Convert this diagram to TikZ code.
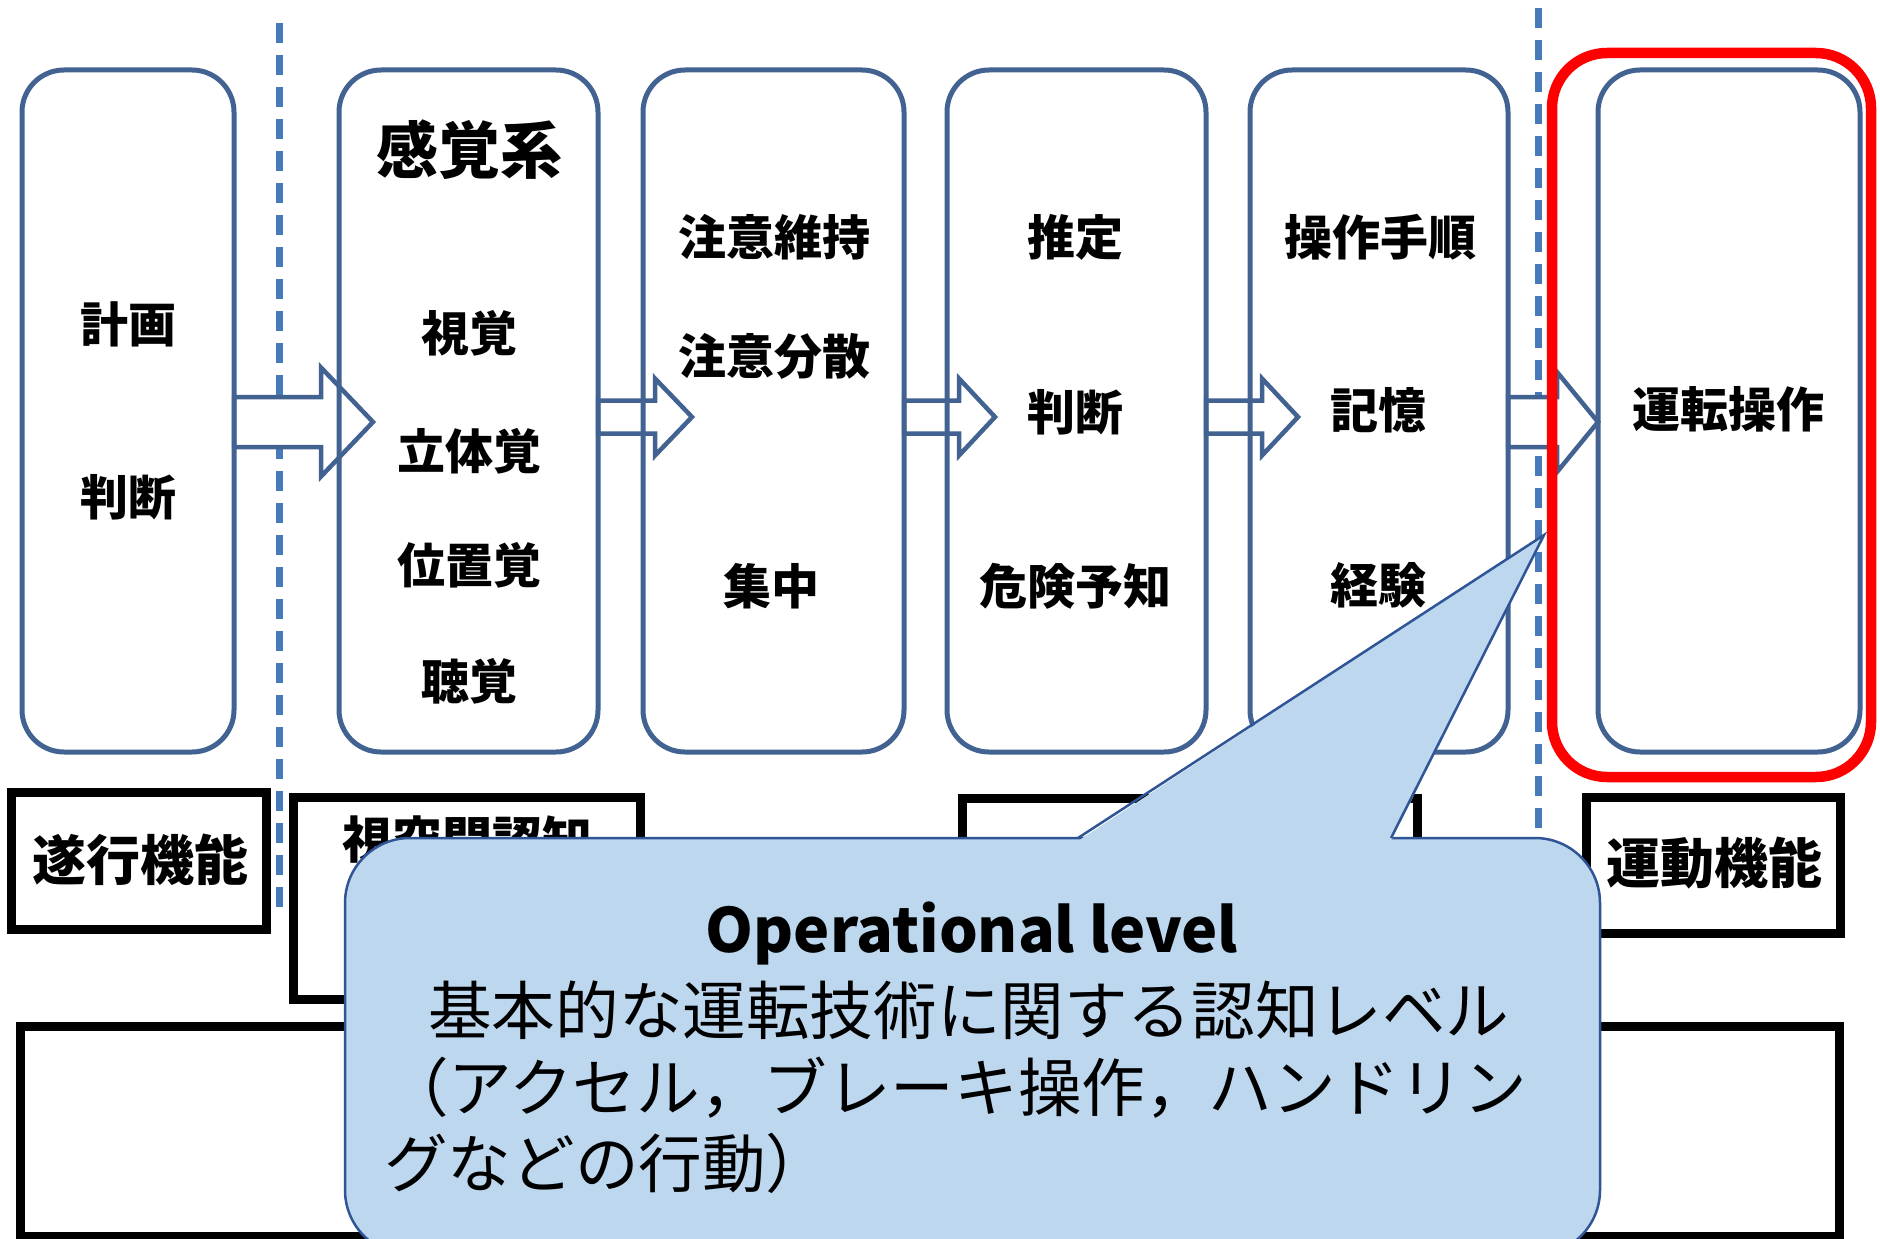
\documentclass[tikz,border=0pt]{standalone}
\usepackage{fontspec}
\setmainfont{Noto Sans CJK JP}
\usetikzlibrary{calc}
\pgfdeclarelayer{bg}
\pgfdeclarelayer{paper}
\pgfsetlayers{paper,bg,main}
\definecolor{boxblue}{RGB}{66,99,146}
\definecolor{dashblue}{RGB}{72,122,186}
\definecolor{calloutfill}{RGB}{189,215,238}
\definecolor{calloutline}{RGB}{47,85,151}
\definecolor{redline}{RGB}{255,0,0}
% #1 start node anchor, #2 shaft length, #3 head length, #4 shaft half, #5 head half, #6 dy
\newcommand{\blockarrow}[6]{%
  \draw[arrowline] ($(#1)+(0,#6-#4)$) -- ++(#2,0) -- ++(0,#4-#5) -- ++(#3,#5)
    -- ++(-#3,#5) -- ++(0,#4-#5) -- ++(-#2,0) -- cycle;}
\begin{document}
\begin{tikzpicture}[x=1pt,y=-1pt,
  bluebox/.style={draw=boxblue, line width=5pt, rounded corners=42pt, inner sep=0pt, outer sep=0pt},
  arrowline/.style={draw=boxblue, fill=white, line width=4.5pt, line join=miter},
  dashline/.style={draw=dashblue, line width=7pt, dash pattern=on 20pt off 12pt},
  blackbox/.style={draw=black, line width=9pt, fill=white, inner sep=0pt, outer sep=0pt},
  redbox/.style={draw=redline, line width=10.5pt, rounded corners=55pt, inner sep=0pt},
  calloutbody/.style={draw=calloutline, fill=calloutfill, line width=2.5pt, rounded corners=65pt, inner sep=0pt},
  boxtxt/.style={font=\bfseries\fontsize{48pt}{48pt}\selectfont, inner sep=0pt},
  bigtxt/.style={font=\bfseries\fontsize{62pt}{62pt}\selectfont, inner sep=0pt},
  labtxt/.style={font=\bfseries\fontsize{54pt}{54pt}\selectfont, inner sep=0pt},
  calltxt/.style={font=\fontsize{63.6pt}{63.6pt}\selectfont, inner sep=0pt, anchor=west},
  calltitle/.style={font=\bfseries\fontsize{61pt}{61pt}\selectfont, inner sep=0pt}
]
\begin{pgfonlayer}{paper}
\fill[white] (0,0) rectangle (1880,1239);
\end{pgfonlayer}
\useasboundingbox (0,0) rectangle (1880,1239);

% main boxes
\node[bluebox, minimum width=212pt, minimum height=682pt] (b1) at (128,411) {};
\node[bluebox, minimum width=259pt, minimum height=682pt] (b2) at (468.5,411) {};
\node[bluebox, minimum width=261pt, minimum height=682pt] (b3) at (773.5,411) {};
\node[bluebox, minimum width=259pt, minimum height=682pt] (b4) at (1076.5,411) {};
\node[bluebox, minimum width=258pt, minimum height=682pt] (b5) at (1379,411) {};
\node[bluebox, minimum width=262pt, minimum height=682pt] (b6) at (1729,411) {};

% dashed separators and arrows behind the boxes
\coordinate (d1t) at (279,23);
\coordinate (d1b) at (279,913);
\coordinate (d2t) at (1538,8);
\coordinate (d2b) at (1538,913);
\begin{pgfonlayer}{bg}
  \draw[dashline] (d1t) -- (d1b);
  \draw[dashline] (d2t) -- (d2b);
  \blockarrow{b1.east}{87}{52}{25}{54.5}{11}
  \blockarrow{b2.east}{57}{37}{16.5}{38.5}{6}
  \blockarrow{b3.east}{55}{36}{16.5}{38.5}{6}
  \blockarrow{b4.east}{56}{36}{16.5}{38.5}{6}
  \blockarrow{b5.east}{49}{41}{25}{50}{11}
\end{pgfonlayer}

% texts in boxes
\node[boxtxt] (t1a) at (128,324) {計画};
\node[boxtxt] (t1b) at (128,497) {判断};
\node[bigtxt] (t2a) at (469,150) {感覚系};
\node[boxtxt] (t2b) at (469,333) {視覚};
\node[boxtxt] (t2c) at (469,451) {立体覚};
\node[boxtxt] (t2d) at (469,565) {位置覚};
\node[boxtxt] (t2e) at (469,681) {聴覚};
\node[boxtxt] (t3a) at (774,237) {注意維持};
\node[boxtxt] (t3b) at (774,356) {注意分散};
\node[boxtxt] (t3c) at (771,586) {集中};
\node[boxtxt] (t4a) at (1075,237) {推定};
\node[boxtxt] (t4b) at (1075,412) {判断};
\node[boxtxt] (t4c) at (1075,586) {危険予知};
\node[boxtxt] (t5a) at (1380,237) {操作手順};
\node[boxtxt] (t5b) at (1378,410) {記憶};
\node[boxtxt] (t5c) at (1378,585) {経験};
\node[boxtxt] (t6a) at (1728,409) {運転操作};

% red highlight
\node[redbox, minimum width=319pt, minimum height=724pt] (red) at (1711.5,415) {};

% lower label boxes
\node[blackbox, minimum width=255pt, minimum height=137pt] (l1) at (138.5,860.5) {};
\node[blackbox, minimum width=347pt, minimum height=202pt] (l2) at (466.5,898) {};
\node[blackbox, minimum width=455pt, minimum height=201pt] (l3) at (1189.5,898.5) {};
\node[blackbox, minimum width=254pt, minimum height=136pt] (l4) at (1713,865) {};
\node[blackbox, minimum width=1819pt, minimum height=210pt] (l5) at (929.5,1131) {};
\node[labtxt] (l1t) at (140,860) {遂行機能};
\node[boxtxt, font=\bfseries\fontsize{50pt}{50pt}\selectfont] (l2t) at (467,840) {視空間認知};
\node[labtxt] (l4t) at (1714,863) {運動機能};

% callout
\node[calloutbody, minimum width=1255pt, minimum height=417pt] (cb) at (972.5,1046.5) {};
\coordinate (pl) at (1078,838);
\coordinate (pr) at (1391,838);
\coordinate (ptip) at (1544,535);
\fill[calloutfill] ($(pl)+(0,3)$) -- (ptip) -- ($(pr)+(0,3)$) -- cycle;
\draw[draw=calloutline, line width=2.5pt, line join=miter] (pl) -- (ptip) -- (pr);

\node[calltitle] (ct) at (972,933) {Operational level};
\node[calltxt] (c2) at (428,1010) {基本的な運転技術に関する認知レベル};
\node[calltxt] (c3) at (385,1088) {（アクセル，ブレーキ操作，ハンドリン};
\node[calltxt] (c4) at (384,1163) {グなどの行動）};
\end{tikzpicture}
\end{document}
